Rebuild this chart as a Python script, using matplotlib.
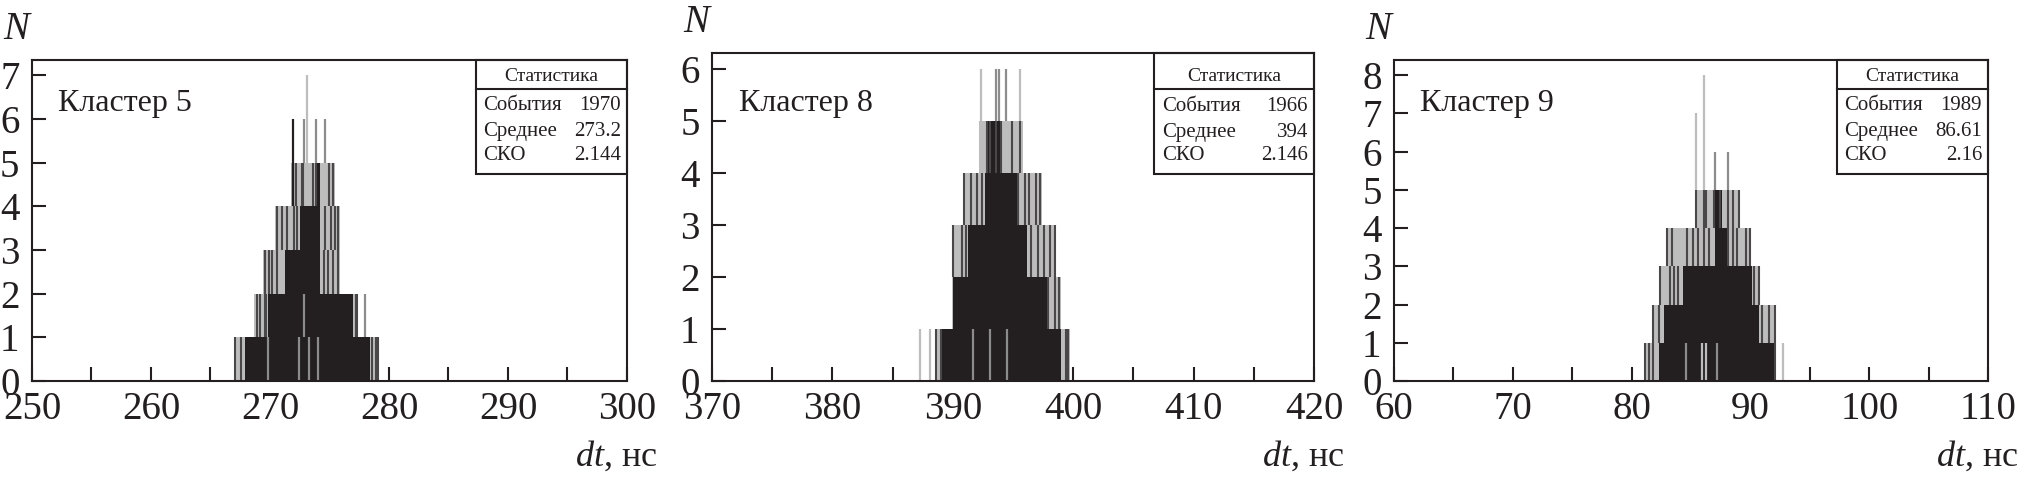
"""Three dt histograms (clusters 5, 8, 9) with ROOT-style stats boxes."""

import matplotlib
matplotlib.use("Agg")
import matplotlib.pyplot as plt
from matplotlib.patches import Rectangle

plt.rcParams["font.family"] = ["Liberation Serif", "DejaVu Serif"]
plt.rcParams["mathtext.fontset"] = "custom"
plt.rcParams["mathtext.it"] = "Liberation Serif:italic"
plt.rcParams["mathtext.rm"] = "Liberation Serif"

BLACK = "#231f20"
DARK = "#4a4748"
GREY = "#8c8c8c"
LIGHT = "#bdbdbd"

# ── data ──
CLUSTERS = ["Кластер 5", "Кластер 8", "Кластер 9"]
XLIMS = [(250, 300), (370, 420), (60, 110)]
YMAX = [7, 6, 8]
EVENTS = [1970, 1966, 1989]
MEANS = ["273.2", "394", "86.61"]
RMS = ["2.144", "2.146", "2.16"]

# (level, outer_lo, outer_hi, dense_lo, dense_hi)
BANDS_5 = [
    (1, 267.1, 279.2, 267.9, 278.4),
    (2, 268.7, 277.4, 269.8, 277.0),
    (3, 269.4, 275.9, 271.3, 274.2),
    (4, 270.4, 275.9, 272.5, 274.2),
    (5, 271.8, 275.5, 273.8, 274.2),
]
BANDS_8 = [
    (1, 388.6, 399.7, 388.9, 399.0),
    (2, 389.9, 399.0, 390.0, 397.8),
    (3, 389.9, 398.5, 391.3, 396.2),
    (4, 390.9, 397.4, 392.7, 395.3),
    (5, 392.2, 395.8, 392.9, 394.1),
]
BANDS_9 = [
    (1, 81.0, 92.1, 82.3, 92.0),
    (2, 81.8, 92.1, 82.7, 90.7),
    (3, 82.4, 90.7, 84.3, 90.1),
    (4, 83.0, 90.0, 87.0, 88.0),
    (5, 85.4, 89.0, 86.9, 87.6),
]

# streaks of single bins inside the grey fringes: level -> x positions
STREAKS_5 = {
    1: [267.1, 267.6, 278.6, 278.9, 279.1],
    2: [268.9, 269.2, 269.6, 269.7, 277.2, 277.3],
    3: [269.6, 269.9, 270.2, 270.6, 274.5, 274.9, 275.3, 275.7],
    4: [270.6, 271.0, 271.4, 272.0, 272.3, 274.6, 275.1, 275.5, 275.7],
    5: [271.9, 272.2, 272.7, 272.8, 273.6, 273.9, 275.0, 275.3],
}
STREAKS_8 = {
    1: [388.6, 389.0, 399.4, 399.6],
    2: [397.9, 398.5, 398.8],
    3: [390.0, 390.8, 391.1, 396.5, 397.1, 397.6, 398.1, 398.5],
    4: [390.9, 391.5, 392.0, 392.4, 395.4, 396.0, 396.3, 396.9, 397.2],
    5: [392.8, 393.1, 393.6, 394.0, 394.9, 395.6],
}
STREAKS_9 = {
    1: [81.1, 81.5, 81.8, 92.1],
    2: [81.8, 82.3, 91.0, 91.6, 92.1],
    3: [82.4, 83.2, 83.6, 83.9, 90.3, 90.7],
    4: [83.0, 83.4, 84.7, 85.2, 85.6, 86.1, 86.5, 88.1, 88.5, 88.9, 89.6, 90.0],
    5: [85.4, 86.1, 86.3, 86.9, 87.4, 88.1, 88.5, 89.0],
}

# single bins sticking out / pale gaps: (x, bottom, top, colour)
SPIKES_5 = [
    (271.9, 4, 6, BLACK), (272.9, 5, 6, GREY), (273.9, 5, 6, GREY),
    (274.6, 5, 6, GREY), (273.1, 5, 7, LIGHT), (278.0, 1, 2, GREY),
    (269.8, 0, 1, GREY), (272.4, 0, 1, GREY), (273.3, 0, 1, GREY),
    (274.0, 0, 1, GREY), (272.9, 1, 2, GREY),
]
SPIKES_8 = [
    (387.3, 0, 1, LIGHT), (388.1, 0, 1, LIGHT), (392.3, 5, 6, LIGHT),
    (393.6, 5, 6, GREY), (393.8, 5, 6, GREY), (394.4, 5, 6, GREY),
    (395.6, 5, 6, LIGHT), (391.7, 0, 1, GREY), (393.1, 0, 1, GREY),
    (394.5, 0, 1, GREY),
]
SPIKES_9 = [
    (92.7, 0, 1, LIGHT), (85.4, 5, 7, LIGHT), (86.1, 5, 8, LIGHT),
    (87.0, 5, 6, GREY), (88.1, 5, 6, GREY), (84.6, 0, 1, GREY),
    (85.9, 0, 1, LIGHT), (86.3, 0, 1, LIGHT), (87.2, 0, 1, GREY),
]

BANDS = [BANDS_5, BANDS_8, BANDS_9]
STREAKS = [STREAKS_5, STREAKS_8, STREAKS_9]
SPIKES = [SPIKES_5, SPIKES_8, SPIKES_9]

# axes rectangles in figure fractions
AX_POS = [
    [0.0158, 0.2063, 0.2946, 0.6688],
    [0.3525, 0.2063, 0.2980, 0.6833],
    [0.6901, 0.2063, 0.2941, 0.6688],
]
BOX_LEFT = [0.746, 0.735, 0.746]
BOX_BOTTOM = [0.645, 0.631, 0.645]
BOX_HEADER = [0.910, 0.890, 0.910]
ROW_Y = [(0.857, 0.776, 0.701), (0.838, 0.759, 0.686), (0.857, 0.776, 0.701)]
TITLE_Y = [0.947, 0.927, 0.947]
LABEL_Y = [0.863, 0.845, 0.863]

fig = plt.figure(figsize=(20.2, 4.8), dpi=100)

for i in range(3):
    ax = fig.add_axes(AX_POS[i])
    x0, x1 = XLIMS[i]
    ymax = YMAX[i]

    for level, olo, ohi, dlo, dhi in BANDS[i]:
        ax.bar(olo, 1, width=ohi - olo, bottom=level - 1, align="edge",
               color=LIGHT, linewidth=0)
    for level, xs in STREAKS[i].items():
        ax.vlines(xs, level - 1, level, colors=DARK, linewidth=1.5)
    for level, olo, ohi, dlo, dhi in BANDS[i]:
        ax.bar(dlo, 1, width=dhi - dlo, bottom=level - 1, align="edge",
               color=BLACK, linewidth=0)
    for x, lo, hi, c in SPIKES[i]:
        ax.vlines(x, lo, hi, colors=c, linewidth=1.6)

    ax.set_xlim(x0, x1)
    ax.set_ylim(0, ymax * 1.05)

    xt = list(range(x0, x1 + 1, 5))
    ax.set_xticks(xt)
    ax.set_xticklabels([str(v) if v % 10 == 0 else "" for v in xt])
    ax.set_yticks(range(0, ymax + 1))
    ax.tick_params(direction="in", length=10, width=1.5, labelsize=28,
                   colors=BLACK, top=False, right=False)
    ax.tick_params(axis="x", pad=7)
    ax.tick_params(axis="y", pad=9)
    for s in ax.spines.values():
        s.set_linewidth(1.5)
        s.set_color(BLACK)

    ax.text(0.044, LABEL_Y[i], CLUSTERS[i], transform=ax.transAxes,
            fontsize=23, va="center", ha="left", color=BLACK)

    # stats box
    bl, bb, bh = BOX_LEFT[i], BOX_BOTTOM[i], BOX_HEADER[i]
    ax.add_patch(Rectangle((bl, bb), 1 - bl, 1 - bb, transform=ax.transAxes,
                           fill=False, edgecolor=BLACK, linewidth=1.5,
                           clip_on=False))
    ax.plot([bl, 1], [bh, bh], transform=ax.transAxes, color=BLACK,
            linewidth=1.5, clip_on=False)
    ax.text((bl + 1) / 2, TITLE_Y[i], "Статистика", transform=ax.transAxes,
            fontsize=14, ha="center", va="center", color=BLACK)
    names = ["События", "Среднее", "СКО"]
    vals = [str(EVENTS[i]), MEANS[i], RMS[i]]
    for name, val, y in zip(names, vals, ROW_Y[i]):
        ax.text(bl + 0.012, y, name, transform=ax.transAxes, fontsize=15,
                ha="left", va="center", color=BLACK)
        ax.text(0.99, y, val, transform=ax.transAxes, fontsize=15,
                ha="right", va="center", color=BLACK)

    ax.text(-0.024, 1.0 + 30 / (AX_POS[i][3] * 480), "$N$",
            transform=ax.transAxes, fontsize=28, ha="center", va="center",
            color=BLACK)
    ax.text(1.0 + 30 / (AX_POS[i][2] * 2020), -85 / (AX_POS[i][3] * 480),
            "$dt$, нс", transform=ax.transAxes, fontsize=26, ha="right",
            va="baseline", color=BLACK)

fig.savefig("out.png", dpi=100)
